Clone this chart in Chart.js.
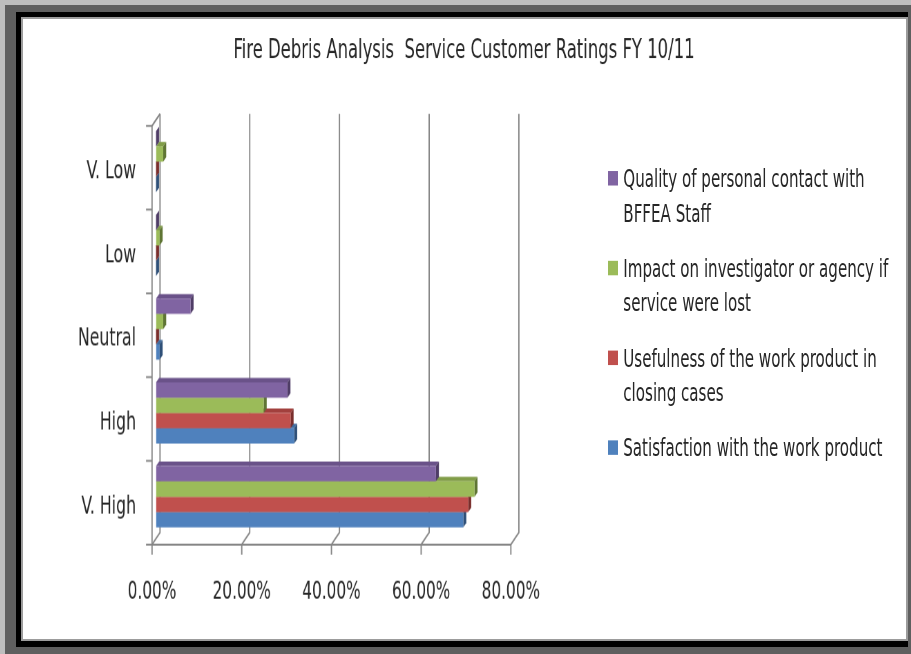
<!DOCTYPE html>
<html>
<head>
<meta charset="utf-8">
<title>Fire Debris Analysis Service Customer Ratings FY 10/11</title>
<script src="https://cdn.jsdelivr.net/npm/chart.js@4.4.1/dist/chart.umd.min.js"></script>
<style>
  html, body { margin: 0; padding: 0; }
  body {
    width: 911px; height: 654px; position: relative; overflow: hidden;
    background: #5f5f5f;
    font-family: 'DejaVu Sans Condensed', 'Liberation Sans Narrow', sans-serif;
  }
  .edge-top { position: absolute; left: 0; top: 0; width: 911px; height: 5px; background: #bebebe; }
  .edge-left { position: absolute; left: 0; top: 0; width: 5px; height: 654px; background: #bebebe; }
  .frame { position: absolute; left: 16px; top: 12px; width: 892px; height: 635px; background: #000; }
  .panel {
    position: absolute; left: 21px; top: 17px; width: 883px; height: 620px;
    border: 2px solid #9c9c9c; background: #fff;
  }
  /* chart is laid out at a shorter height and stretched vertically */
  #wrap {
    position: absolute; left: 23px; top: 19px; width: 882px; height: 428px;
    transform-origin: 0 0; transform: scaleY(1.448);
  }
  #chart { position: absolute; left: 0; top: 0; }
  .leg-item { position: absolute; left: 584.7px; width: 300px; }
  .leg-box { position: absolute; left: 0; top: 6.9px; width: 10px; height: 10.4px; }
  .leg-text {
    margin-left: 15.6px; white-space: nowrap; font-size: 16.8px; line-height: 24.2px; color: #262626;
  }
</style>
</head>
<body>
<div class="edge-top"></div>
<div class="edge-left"></div>
<div class="frame"></div>
<div class="panel"></div>
<div id="wrap">
  <canvas id="chart" width="882" height="428"></canvas>
  <div id="legend"></div>
</div>
<script>
// Rating categories, listed top to bottom as they appear on the axis
const categories = ['V. Low', 'Low', 'Neutral', 'High', 'V. High'];

// Share of responses (%) per rating, same order as categories
const quality      = [0,   0,   7.7, 29.3, 62.4];
const impact       = [1.6, 0.8, 1.6, 24.0, 71.0];
const usefulness   = [0,   0,   0,   30.0, 69.6];
const satisfaction = [0,   0,   0.8, 30.8, 68.5];

// Series names, split the way the legend wraps them
const seriesNames = [
  ['Quality of personal contact with', 'BFFEA Staff'],
  ['Impact on investigator or agency if', 'service were lost'],
  ['Usefulness of the work product in', 'closing cases'],
  ['Satisfaction with the work product']
];

const xTickValues = [0, 20, 40, 60, 80];
const chartTitle = 'Fire Debris Analysis  Service Customer Ratings FY 10/11';

const K = 1.448;                      // vertical stretch of the wrapper
const FONT = "'DejaVu Sans Condensed', 'Liberation Sans Narrow', sans-serif";
const TEXT = '#262626';

const palette = [
  { front: '#8064A2', top: '#6a5289', side: '#4f3d66' },
  { front: '#9BBB59', top: '#819d48', side: '#5f7534' },
  { front: '#C0504D', top: '#a2403d', side: '#7a2e2c' },
  { front: '#4F81BD', top: '#406c9f', side: '#2f5078' }
];
const seriesValues = [quality, impact, usefulness, satisfaction];

// depth of the walls (half) and of the bars, in canvas units
const WALL_DX = 4, WALL_DY = 6 / K;
const BAR_DX = 3, BAR_DY = 4.5 / K;

const depth3d = {
  id: 'depth3d',
  beforeDatasetsDraw(chart) {
    const { ctx, chartArea: a, scales: { x } } = chart;
    ctx.save();
    ctx.strokeStyle = '#858585';
    ctx.lineWidth = 1.3;
    const x0 = x.getPixelForValue(0);
    const xEnd = x.getPixelForValue(80);

    // back wall gridlines, floor diagonals and value ticks
    xTickValues.forEach(v => {
      const px = x.getPixelForValue(v);
      ctx.beginPath();
      ctx.moveTo(px + WALL_DX, a.top - WALL_DY);
      ctx.lineTo(px + WALL_DX, a.bottom - WALL_DY);
      ctx.lineTo(px - WALL_DX, a.bottom + WALL_DY);
      ctx.lineTo(px - WALL_DX, a.bottom + WALL_DY + 7);
      ctx.stroke();
    });
    // front value axis
    ctx.beginPath();
    ctx.moveTo(x0 - WALL_DX, a.bottom + WALL_DY);
    ctx.lineTo(xEnd - WALL_DX, a.bottom + WALL_DY);
    ctx.stroke();
    // side wall: top diagonal and front category axis
    ctx.beginPath();
    ctx.moveTo(x0 + WALL_DX, a.top - WALL_DY);
    ctx.lineTo(x0 - WALL_DX, a.top + WALL_DY);
    ctx.lineTo(x0 - WALL_DX, a.bottom + WALL_DY);
    ctx.stroke();
    // category boundary ticks
    const band = (a.bottom - a.top) / categories.length;
    for (let i = 0; i <= categories.length; i++) {
      const yb = a.top + i * band + WALL_DY;
      ctx.beginPath();
      ctx.moveTo(x0 - WALL_DX - 6, yb);
      ctx.lineTo(x0 - WALL_DX, yb);
      ctx.stroke();
    }

    // bar depth faces, lowest series first so upper bars cover them
    for (let d = chart.data.datasets.length - 1; d >= 0; d--) {
      const meta = chart.getDatasetMeta(d);
      const col = palette[d];
      meta.data.forEach(el => {
        const p = el.getProps(['x', 'y', 'base', 'height'], true);
        const t = p.y - p.height / 2, b = p.y + p.height / 2;
        const s = Math.min(p.base, p.x), e = Math.max(p.base, p.x);
        ctx.fillStyle = col.top;
        ctx.beginPath();
        ctx.moveTo(s, t);
        ctx.lineTo(s + BAR_DX, t - BAR_DY);
        ctx.lineTo(e + BAR_DX, t - BAR_DY);
        ctx.lineTo(e, t);
        ctx.closePath();
        ctx.fill();
        ctx.fillStyle = col.side;
        ctx.beginPath();
        ctx.moveTo(e, t);
        ctx.lineTo(e + BAR_DX, t - BAR_DY);
        ctx.lineTo(e + BAR_DX, b - BAR_DY);
        ctx.lineTo(e, b);
        ctx.closePath();
        ctx.fill();
      });
    }
    ctx.restore();
  }
};

const chart = new Chart(document.getElementById('chart'), {
  type: 'bar',
  data: {
    labels: categories,
    datasets: seriesNames.map((lines, i) => ({
      label: lines.join(' '),
      data: seriesValues[i],
      backgroundColor: palette[i].front,
      borderWidth: 0,
      barPercentage: 1,
      categoryPercentage: 0.73
    }))
  },
  options: {
    indexAxis: 'y',
    responsive: false,
    animation: false,
    devicePixelRatio: K,
    scales: {
      x: {
        min: 0, max: 80,
        ticks: {
          stepSize: 20,
          callback: v => Number(v).toFixed(2) + '%',
          labelOffset: -WALL_DX,
          padding: 26.9,
          color: TEXT,
          font: { family: FONT, size: 17 }
        },
        grid: { display: false, drawTicks: false },
        border: { display: false },
        afterFit: s => { s.height = 69.6; }
      },
      y: {
        ticks: {
          padding: 20,
          labelOffset: 6.9,
          color: TEXT,
          font: { family: FONT, size: 17.5 }
        },
        grid: { display: false, drawTicks: false },
        border: { display: false },
        afterFit: s => { s.width = 133; }
      },
      // empty right-hand axis that reserves the legend column
      legendSpace: {
        type: 'category',
        position: 'right',
        labels: categories,
        ticks: { display: false },
        grid: { display: false, drawTicks: false },
        border: { display: false },
        afterFit: s => { s.width = 390.2; }
      }
    },
    plugins: {
      legend: { display: false },
      tooltip: { enabled: false },
      title: {
        display: true,
        text: chartTitle,
        color: TEXT,
        font: { family: FONT, size: 18.3, weight: 'normal' },
        padding: { top: 11.2, bottom: 36.4 }
      }
    }
  },
  plugins: [depth3d]
});

// legend on the right, one wrapped entry per series
const legend = document.getElementById('legend');
chart.data.datasets.forEach((ds, i) => {
  const item = document.createElement('div');
  item.className = 'leg-item';
  item.style.top = (109.8 + i * 62.1 - 12.1) + 'px';
  const box = document.createElement('div');
  box.className = 'leg-box';
  box.style.background = ds.backgroundColor;
  const txt = document.createElement('div');
  txt.className = 'leg-text';
  seriesNames[i].forEach((line, j) => {
    if (j) txt.appendChild(document.createElement('br'));
    txt.appendChild(document.createTextNode(line));
  });
  item.appendChild(box);
  item.appendChild(txt);
  legend.appendChild(item);
});
</script>
</body>
</html>
